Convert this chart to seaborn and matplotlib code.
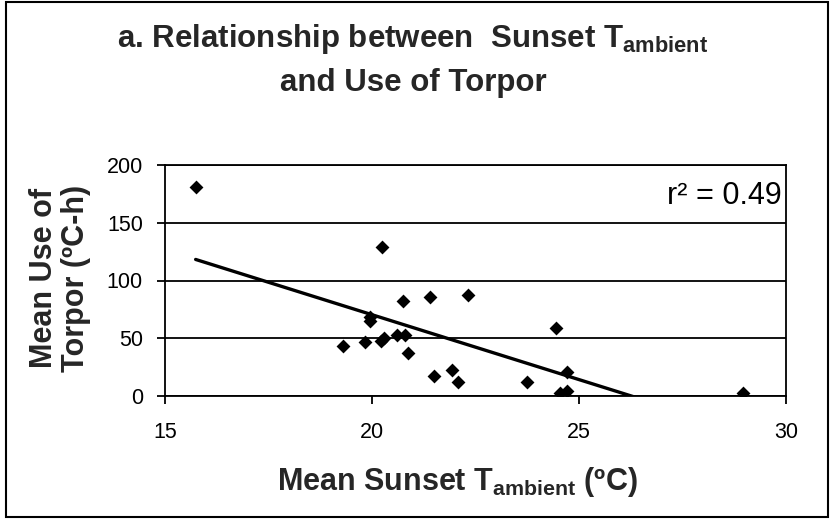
#!/usr/bin/env python3

import pandas as pd
import seaborn as sns
from matplotlib import pyplot as plt
from matplotlib import patches

# values
sunset_temp = [15.74, 20.25, 20.74, 21.41, 22.31, 19.94, 19.94, 24.44,
               19.30, 19.84, 20.28, 20.21, 20.60, 20.79, 20.87, 21.50,
               21.94, 22.08, 23.74, 24.70, 24.54, 24.70, 28.96]
torpor_use = [181, 129, 82, 86, 87.5, 68, 65, 59,
              43.5, 47, 50.5, 47.5, 52.5, 52.5, 37, 17,
              22.5, 12, 12, 21, 2.5, 4.5, 3]
x_ticks = [15, 20, 25, 30]
y_ticks = [0, 50, 100, 150, 200]
r2_label = 'r² = 0.49'

W, H = 835, 521


def main() -> None:
    df = pd.DataFrame({'temp': sunset_temp, 'torpor': torpor_use})

    sns.set_theme(style='white')
    plt.rcParams['font.family'] = ['Liberation Sans', 'DejaVu Sans']
    plt.rcParams['mathtext.fontset'] = 'custom'
    plt.rcParams['mathtext.rm'] = 'Liberation Sans:bold'
    plt.rcParams['mathtext.it'] = 'Liberation Sans:bold'
    plt.rcParams['mathtext.bf'] = 'Liberation Sans:bold'

    fig, ax = plt.subplots(figsize=(W / 100, H / 100), dpi=100)
    fig.subplots_adjust(left=165 / W, right=786 / W,
                        top=1 - 165 / H, bottom=1 - 396 / H)

    sns.regplot(
        data=df, x='temp', y='torpor', ax=ax, ci=None,
        marker='D',
        scatter_kws={'s': 50, 'color': 'black', 'alpha': 1,
                     'linewidths': 0, 'zorder': 3},
        line_kws={'color': 'black', 'lw': 2.4, 'zorder': 2},
    )

    ax.set_xlim(15, 30)
    ax.set_ylim(0, 200)
    ax.set_xticks(x_ticks)
    ax.set_yticks(y_ticks)
    ax.set_xlabel('')
    ax.set_ylabel('')
    ax.yaxis.grid(True, color='black', lw=1.3)
    ax.set_axisbelow(True)
    for sp in ax.spines.values():
        sp.set_color('black')
        sp.set_linewidth(1.3)
    ax.tick_params(axis='both', direction='out', length=6, width=1.3,
                   color='black', labelsize=15.5, labelcolor='black')
    ax.tick_params(axis='y', pad=10, left=True)
    ax.tick_params(axis='x', pad=13, bottom=True)

    ax.text((782 - 165) / 621, (396 - 196) / 231, r2_label,
            transform=ax.transAxes, ha='right', va='center',
            fontsize=22, color='black')

    # title, two lines
    fig.text(413 / W, 1 - 47 / H,
             'a. Relationship between  Sunset T$_{\\mathrm{ambient}}$',
             ha='center', va='baseline', fontsize=22.5, fontweight='bold')
    fig.text(413 / W, 1 - 91 / H, 'and Use of Torpor',
             ha='center', va='baseline', fontsize=22.5, fontweight='bold')

    # axis labels
    fig.text(457 / W, 1 - 490 / H,
             'Mean Sunset T$_{\\mathrm{ambient}}$ (ºC)',
             ha='center', va='baseline', fontsize=22, fontweight='bold')
    fig.text(52 / W, 1 - 278 / H, 'Mean Use of', rotation=90,
             rotation_mode='anchor', ha='center', va='baseline',
             fontsize=22, fontweight='bold')
    fig.text(84 / W, 1 - 278 / H, 'Torpor (ºC-h)', rotation=90,
             rotation_mode='anchor', ha='center', va='baseline',
             fontsize=22, fontweight='bold')

    # outer frame of the chart
    fig.patches.append(patches.Rectangle(
        (6 / W, 1 - 517 / H), 822 / W, 515 / H,
        transform=fig.transFigure, fill=False,
        edgecolor='black', lw=1.5))

    fig.savefig('out.png', dpi=100)
    plt.close(fig)


if __name__ == '__main__':
    main()
